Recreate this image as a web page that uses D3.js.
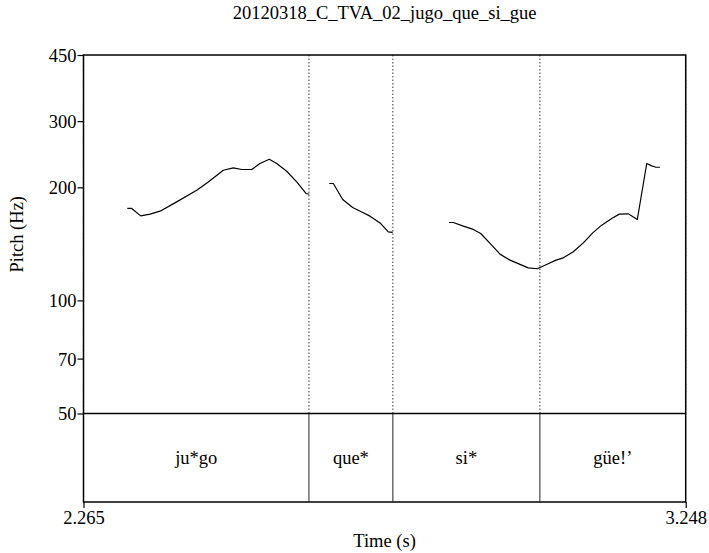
<!DOCTYPE html>
<html>
<head>
<meta charset="utf-8">
<script src="https://cdn.jsdelivr.net/npm/d3@7"></script>
<style>
  body { margin: 0; background: #fff; }
  svg text { font-family: "Liberation Serif", "DejaVu Serif", serif; fill: #000; }
</style>
</head>
<body>
<svg id="chart" width="709" height="553"></svg>
<script>
//----------data----------
const title = "20120318_C_TVA_02_jugo_que_si_gue";
const timeRange = [2.265, 3.248];
const pitchRange = [50, 450];
const pitchTicks = [50, 70, 100, 200, 300, 450];

// pitch contour, [time (s), pitch (Hz)], one array per voiced stretch
const seg1 = [
  [2.3365, 175.7], [2.3437, 175.7], [2.3584, 167.9], [2.3736, 169.7], [2.3899, 172.8],
  [2.4171, 182.9], [2.4498, 196.5], [2.4687, 206.7], [2.4932, 222.1], [2.5095, 225.3],
  [2.5232, 223.1], [2.5396, 223.1], [2.5531, 231.4], [2.5683, 237.6], [2.5804, 231.4],
  [2.5967, 220.7], [2.6130, 206.7], [2.6282, 192.6], [2.6336, 191.7]
];
const seg2 = [
  [2.6662, 204.7], [2.6728, 204.7], [2.6881, 185.6], [2.7044, 176.8], [2.7191, 172.0],
  [2.7327, 167.6], [2.7490, 160.8], [2.7626, 152.2], [2.7697, 151.7]
];
const seg3 = [
  [2.8616, 161.2], [2.8687, 161.2], [2.8850, 157.6], [2.9013, 154.5], [2.9134, 150.7],
  [2.9286, 141.8], [2.9449, 132.8], [2.9612, 128.0], [2.9775, 124.7], [2.9911, 122.1],
  [3.0058, 121.4], [3.0200, 124.4], [3.0363, 128.0], [3.0482, 129.8], [3.0645, 134.7],
  [3.0809, 142.3], [3.0962, 151.3], [3.1109, 158.6], [3.1272, 165.2], [3.1396, 169.7],
  [3.1543, 170.0], [3.1690, 164.2], [3.1844, 231.4], [3.1925, 228.1], [3.1996, 226.2],
  [3.2061, 226.2]
];
const segments = [seg1, seg2, seg3];

// text tier
const boundaries = [2.633, 2.770, 3.010];
const words = ["ju*go", "que*", "si*", "güe!’"];

//----------layout----------
const svg = d3.select("#chart");
const plotLeft = 83.5, plotRight = 685.7;
const plotTop = 55, pitchBottom = 413.5, tierBottom = 502;
const serif = "'Liberation Serif', 'DejaVu Serif', serif";
const fontPx = "18.5px";

const x = d3.scaleLinear().domain(timeRange).range([plotLeft, plotRight]);
const y = d3.scaleLog().domain(pitchRange).range([pitchBottom, plotTop]);

// title
svg.append("text")
  .attr("x", (plotLeft + plotRight) / 2)
  .attr("y", 19)
  .attr("text-anchor", "middle")
  .style("font-family", serif)
  .style("font-size", fontPx)
  .text(title);

// dotted boundary lines through the pitch area
const dotted = [timeRange[0], ...boundaries, timeRange[1]];
svg.selectAll(".dot-line")
  .data(dotted)
  .enter()
  .append("line")
  .attr("class", "dot-line")
  .attr("x1", d => x(d)).attr("x2", d => x(d))
  .attr("y1", plotTop).attr("y2", pitchBottom)
  .attr("stroke", "#444")
  .attr("stroke-width", 1.1)
  .attr("stroke-dasharray", "1.5,2");

// pitch contour
const line = d3.line()
  .x(d => x(d[0]))
  .y(d => y(d[1]));

svg.selectAll(".pitch")
  .data(segments)
  .enter()
  .append("path")
  .attr("class", "pitch")
  .attr("d", line)
  .attr("fill", "none")
  .attr("stroke", "#000")
  .attr("stroke-width", 1.2)
  .attr("stroke-linejoin", "round");

// frame
svg.append("rect")
  .attr("x", plotLeft).attr("y", plotTop)
  .attr("width", plotRight - plotLeft).attr("height", tierBottom - plotTop)
  .attr("fill", "none")
  .attr("stroke", "#000")
  .attr("stroke-width", 1.5);

svg.append("line")
  .attr("x1", plotLeft).attr("x2", plotRight)
  .attr("y1", pitchBottom).attr("y2", pitchBottom)
  .attr("stroke", "#000")
  .attr("stroke-width", 1.5);

// tier boundaries and labels
svg.selectAll(".boundary")
  .data(boundaries)
  .enter()
  .append("line")
  .attr("class", "boundary")
  .attr("x1", d => x(d)).attr("x2", d => x(d))
  .attr("y1", pitchBottom).attr("y2", tierBottom)
  .attr("stroke", "#222")
  .attr("stroke-width", 1);

const edges = [timeRange[0], ...boundaries, timeRange[1]];
svg.selectAll(".word")
  .data(words)
  .enter()
  .append("text")
  .attr("class", "word")
  .attr("x", (d, i) => (x(edges[i]) + x(edges[i + 1])) / 2)
  .attr("y", (pitchBottom + tierBottom) / 2 + 6)
  .attr("text-anchor", "middle")
  .style("font-family", serif)
  .style("font-size", fontPx)
  .text(d => d);

// y axis
const yAxis = d3.axisLeft(y)
  .tickValues(pitchTicks)
  .tickFormat(d3.format("d"))
  .tickSize(6)
  .tickPadding(1);

const yg = svg.append("g")
  .attr("transform", `translate(${plotLeft},0)`)
  .call(yAxis)
  .attr("font-family", null)
  .attr("font-size", null);
yg.select(".domain").remove();
yg.selectAll("line").attr("stroke", "#000").attr("stroke-width", 1.2);
yg.selectAll("text")
  .style("font-family", serif)
  .style("font-size", fontPx)
  .attr("dy", "0.35em");

// x axis (only the two range ends)
const xAxis = d3.axisBottom(x)
  .tickValues(timeRange)
  .tickFormat(d3.format(".3f"))
  .tickSize(6)
  .tickPadding(3);

const xg = svg.append("g")
  .attr("transform", `translate(0,${tierBottom})`)
  .call(xAxis)
  .attr("font-family", null)
  .attr("font-size", null);
xg.select(".domain").remove();
xg.selectAll("line").attr("stroke", "#000").attr("stroke-width", 1.2);
xg.selectAll("text")
  .style("font-family", serif)
  .style("font-size", fontPx);

// axis titles
svg.append("text")
  .attr("x", (plotLeft + plotRight) / 2)
  .attr("y", 547)
  .attr("text-anchor", "middle")
  .style("font-family", serif)
  .style("font-size", fontPx)
  .text("Time (s)");

svg.append("text")
  .attr("transform", `translate(23,${(plotTop + pitchBottom) / 2}) rotate(-90)`)
  .attr("text-anchor", "middle")
  .style("font-family", serif)
  .style("font-size", fontPx)
  .text("Pitch (Hz)");
</script>
</body>
</html>
